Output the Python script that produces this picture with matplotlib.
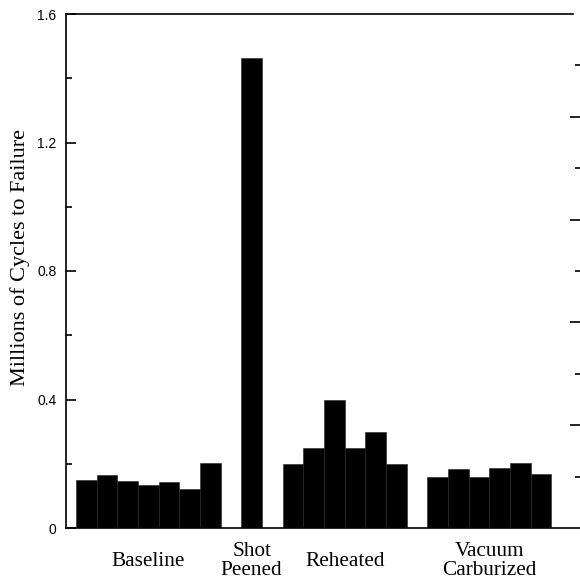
import matplotlib.pyplot as plt
from matplotlib.ticker import MultipleLocator
from matplotlib.transforms import blended_transform_factory

# cycles to failure (millions) for each test specimen
groups = ["Baseline", "Shot\nPeened", "Reheated", "Vacuum\nCarburized"]
baseline = [0.148, 0.166, 0.146, 0.134, 0.143, 0.120, 0.202]
shot_peened = [1.462]
reheated = [0.198, 0.250, 0.397, 0.250, 0.300, 0.198]
vacuum = [0.159, 0.183, 0.158, 0.186, 0.201, 0.168]
series = [baseline, shot_peened, reheated, vacuum]

fig = plt.figure(figsize=(5.8, 5.8), dpi=100)
ax = fig.add_axes([65.5/580, 1-528/580, 514/580, 514/580])

# one empty slot between the groups
pos = 0
centers = []
for vals in series:
    xs = [pos + i for i in range(len(vals))]
    ax.bar(xs, vals, width=1.0, align='edge', color='black',
           edgecolor='#222222', linewidth=0.4, zorder=2)
    centers.append(pos + len(vals) / 2)
    pos += len(vals) + 1

ax.set_xlim(-0.508, 24.36)
ax.set_ylim(0, 1.6)

ax.spines['right'].set_visible(False)
ax.spines['top'].set_linewidth(1.2)
ax.spines['top'].set_bounds(-0.508, 24.04)
ax.spines['left'].set_linewidth(1.2)
ax.spines['bottom'].set_linewidth(1.2)

ax.yaxis.set_minor_locator(MultipleLocator(0.2))
ax.set_yticks([0, 0.4, 0.8, 1.2, 1.6])
ax.set_yticklabels(["0", "0.4", "0.8", "1.2", "1.6"],
                   family="Liberation Sans", fontsize=10)
ax.tick_params(axis='y', which='major', direction='in', length=7, width=1.2, pad=6.5)
ax.tick_params(axis='y', which='minor', direction='in', length=4, width=1.2)
ax.set_xticks([])

# right side ticks, no labels, no spine
ax2 = ax.twinx()
ax2.set_ylim(0, 1.6)
for s in ax2.spines.values():
    s.set_visible(False)
ax2.set_yticks([0.32, 0.64, 0.96, 1.28])
ax2.set_yticks([0.16, 0.48, 0.80, 1.12, 1.44], minor=True)
ax2.set_yticklabels([])
ax2.tick_params(axis='y', which='major', direction='in', length=7, width=1.2)
ax2.tick_params(axis='y', which='minor', direction='in', length=3.5, width=1.2)

trans = blended_transform_factory(ax.transData, fig.transFigure)
for c, name in zip(centers, groups):
    ax.text(c, 1-561/580, name, transform=trans, ha='center', va='center',
            family="Liberation Serif", fontsize=15.3, linespacing=1.0)

fig.text(20/580, 1-258/580, "Millions of Cycles to Failure", rotation=90,
         ha='center', va='center', family="Liberation Serif", fontsize=16)

fig.savefig("out.png", dpi=100)
